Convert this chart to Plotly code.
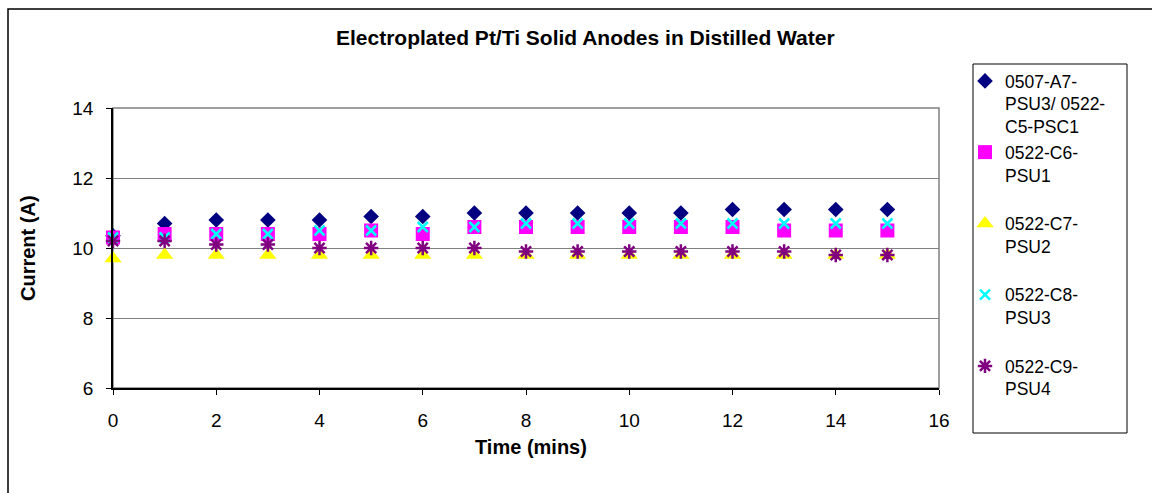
import plotly.graph_objects as go

time_min = list(range(16))
s1_name = "0507-A7-<br>PSU3/ 0522-<br>C5-PSC1"
s1 = [10.35, 10.7, 10.8, 10.8, 10.8, 10.9, 10.9, 11.0, 11.0, 11.0, 11.0, 11.0, 11.1, 11.1, 11.1, 11.1]
s2_name = "0522-C6-<br>PSU1<br> "
s2 = [10.3, 10.4, 10.4, 10.4, 10.4, 10.5, 10.4, 10.6, 10.6, 10.6, 10.6, 10.6, 10.6, 10.5, 10.5, 10.5]
s3_name = "0522-C7-<br>PSU2<br> "
s3 = [9.7, 9.8, 9.8, 9.8, 9.8, 9.8, 9.8, 9.8, 9.8, 9.8, 9.8, 9.8, 9.8, 9.8, 9.8, 9.8]
s4_name = "0522-C8-<br>PSU3<br> "
s4 = [10.3, 10.3, 10.4, 10.4, 10.5, 10.5, 10.6, 10.6, 10.7, 10.7, 10.7, 10.7, 10.7, 10.7, 10.7, 10.7]
s5_name = "0522-C9-<br>PSU4<br> "
s5 = [10.2, 10.2, 10.1, 10.1, 10.0, 10.0, 10.0, 10.0, 9.9, 9.9, 9.9, 9.9, 9.9, 9.9, 9.8, 9.8]

x_ticks = list(range(0, 17, 2))
y_ticks = [6, 8, 10, 12, 14]

W, H = 1152, 493
L, R, T, B = 113, 939, 108, 388
pw, ph = R - L, B - T

def px(x):
    return (x - L) / pw

def py(y):
    return (B - y) / ph

FONT = "Liberation Sans, Arial, sans-serif"

fig = go.Figure()
fig.add_trace(go.Scatter(x=time_min, y=s1, name=s1_name, mode="markers", cliponaxis=False,
                         marker=dict(symbol="diamond", size=12, color="#000080")))
fig.add_trace(go.Scatter(x=time_min, y=s2, name=s2_name, mode="markers", cliponaxis=False,
                         marker=dict(symbol="square", size=14, color="#FF00FF")))
fig.add_trace(go.Scatter(x=time_min, y=s3, name=s3_name, mode="markers", cliponaxis=False,
                         marker=dict(symbol="triangle-up", size=15, color="#FFFF00")))
fig.add_trace(go.Scatter(x=time_min, y=s4, name=s4_name, mode="markers", cliponaxis=False,
                         marker=dict(symbol="x-thin", size=10, color="#00FFFF",
                                     line=dict(color="#00FFFF", width=2.5))))
fig.add_trace(go.Scatter(x=time_min, y=s5, name=s5_name, mode="markers", cliponaxis=False,
                         marker=dict(symbol="asterisk", size=12, color="#800080",
                                     line=dict(color="#800080", width=2.5))))

shapes = [
    dict(type="rect", xref="paper", yref="paper", x0=px(8), x1=px(1170), y0=py(510), y1=py(9),
         line=dict(color="black", width=1.5), fillcolor="rgba(0,0,0,0)", layer="below"),
    dict(type="rect", xref="paper", yref="paper", x0=0, x1=1, y0=0, y1=1,
         line=dict(color="#808080", width=1.5), fillcolor="rgba(0,0,0,0)", layer="below"),
    dict(type="rect", xref="paper", yref="paper", x0=px(973), x1=px(1127), y0=py(433), y1=py(64),
         line=dict(color="black", width=1), fillcolor="rgba(0,0,0,0)", layer="below"),
]

annotations = [
    dict(text="<b>Electroplated Pt/Ti Solid Anodes in Distilled Water</b>", xref="paper", yref="paper",
         x=px(585), y=py(37), xanchor="center", yanchor="middle", showarrow=False,
         font=dict(family=FONT, size=21, color="black")),
    dict(text="<b>Time (mins)</b>", xref="paper", yref="paper",
         x=px(531), y=py(447), xanchor="center", yanchor="middle", showarrow=False,
         font=dict(family=FONT, size=20, color="black")),
    dict(text="<b>Current (A)</b>", xref="paper", yref="paper", textangle=-90,
         x=px(28), y=py(248), xanchor="center", yanchor="middle", showarrow=False,
         font=dict(family=FONT, size=20, color="black")),
]

fig.update_layout(
    width=W, height=H,
    margin=dict(l=L, r=W - R, t=T, b=H - B, pad=0),
    paper_bgcolor="white", plot_bgcolor="white",
    font=dict(family=FONT, size=19, color="black"),
    showlegend=True,
    legend=dict(x=px(965), y=py(63), xanchor="left", yanchor="top",
                bgcolor="rgba(0,0,0,0)", borderwidth=0, valign="top",
                font=dict(family=FONT, size=17.5, color="black"), tracegroupgap=0,
                itemsizing="trace", maxheight=1.0),
    shapes=shapes,
    annotations=annotations,
    xaxis=dict(range=[0, 16], tickvals=x_ticks, ticktext=[str(v) for v in x_ticks],
               showgrid=False, zeroline=False, showline=True, linecolor="black", linewidth=1.5,
               ticks="outside", ticklen=5, tickcolor="black", tickwidth=1,
               ticklabelstandoff=9, tickfont=dict(family=FONT, size=19)),
    yaxis=dict(range=[6, 14], tickvals=y_ticks, ticktext=[str(v) for v in y_ticks],
               showgrid=True, gridcolor="#808080", gridwidth=1,
               zeroline=False, showline=True, linecolor="black", linewidth=1.5,
               ticks="outside", ticklen=5, tickcolor="black", tickwidth=1,
               ticklabelstandoff=9, tickfont=dict(family=FONT, size=19)),
)

fig.write_html("out.html")
